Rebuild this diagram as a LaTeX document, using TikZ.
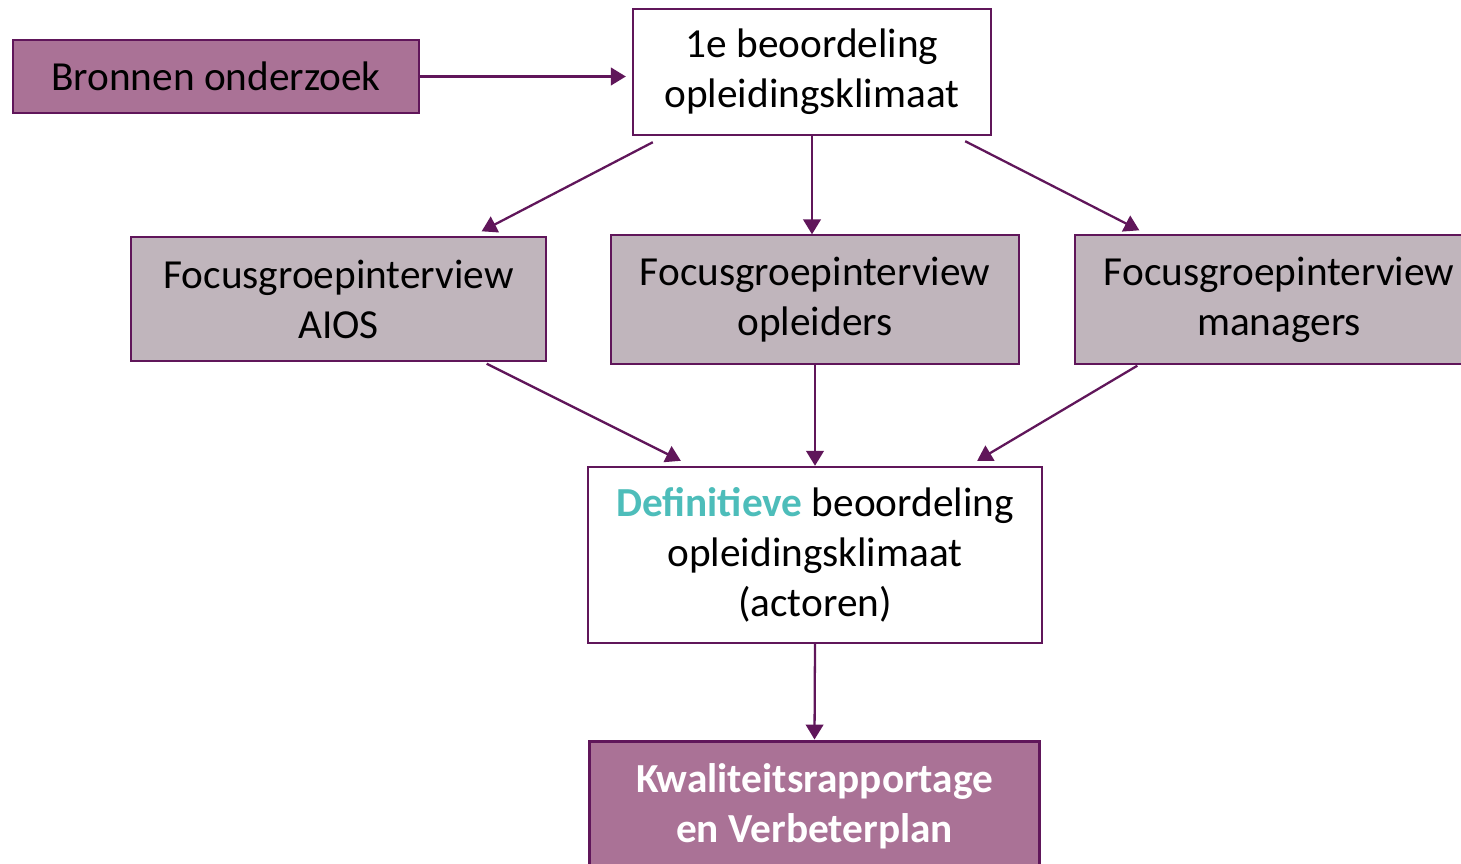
\documentclass[tikz,border=0pt]{standalone}
\usepackage{fontspec}
\setmainfont{Carlito}
\usepackage{tikz}
\usetikzlibrary{arrows.meta}
\definecolor{paars}{RGB}{96,22,90}
\definecolor{mauve}{RGB}{170,114,150}
\definecolor{grijs}{RGB}{192,181,188}
\definecolor{turkoois}{RGB}{77,189,186}
\tikzset{
	greybox/.style={rectangle, draw=paars, fill=grijs, line width=0.8pt, align=center, inner sep=0pt},
	whitebox/.style={rectangle, draw=paars, fill=white, line width=1.4pt, align=center, inner sep=0pt},
	mauvebox/.style={rectangle, draw=paars, fill=mauve, line width=0.8pt, align=center, inner sep=0pt},
	arr/.style={-{Triangle[length=8.5pt, width=10pt]}, draw=paars, line width=1.3pt}
}
\begin{document}
\begin{tikzpicture}[x=0.02cm, y=-0.02cm, font=\fontsize{23.5}{28.5}\selectfont]
		\useasboundingbox (0,0) rectangle (1461,864);

		\node[mauvebox, minimum width=8.12cm, minimum height=1.46cm] at (216,76.5) (bron) {Bronnen onderzoek};
		\node[whitebox, minimum width=7.16cm, minimum height=2.52cm] at (812,72) (eerste) {1e beoordeling\\opleidingsklimaat};

		\node[greybox, minimum width=8.3cm, minimum height=2.48cm] at (338.5,299) (aios) {Focusgroepinterview\\AIOS};
		\node[greybox, minimum width=8.16cm, minimum height=2.58cm] at (815,299.5) (opleiders) {Focusgroepinterview\\opleiders};
		\node[greybox, minimum width=8.16cm, minimum height=2.58cm] at (1279,299.5) (managers) {Focusgroepinterview\\managers};

		\node[whitebox, minimum width=9.08cm, minimum height=3.52cm] at (815,555) (definitief) {\textbf{\color{turkoois}Definitieve} beoordeling\\opleidingsklimaat\\(actoren)};
		\node[mauvebox, line width=1.7pt, text=white, font=\fontsize{23.5}{28.5}\selectfont\bfseries, minimum width=9.02cm, minimum height=2.6cm] at (814.5,806) (rapport) {Kwaliteitsrapportage\\en Verbeterplan};

		\draw[arr, shorten >=3.4pt] (bron.east) -- (bron.east -| eerste.west);

		\draw[arr] ([shift={(21,6)}]eerste.south west) -- ([shift={(-65,-5)}]aios.north east);
		\draw[arr] (eerste.south) -- (eerste.south |- opleiders.north);
		\draw[arr] ([shift={(-27,5)}]eerste.south east) -- ([shift={(65,-4)}]managers.north west);

		\draw[arr] ([shift={(-60,2)}]aios.south east) -- ([shift={(94,-5)}]definitief.north west);
		\draw[arr] (opleiders.south) -- (definitief.north);
		\draw[arr] ([shift={(63,1)}]managers.south west) -- ([shift={(-66,-5)}]definitief.north east);

		\draw[arr] (definitief.south) -- (rapport.north);
	\end{tikzpicture}
\end{document}
